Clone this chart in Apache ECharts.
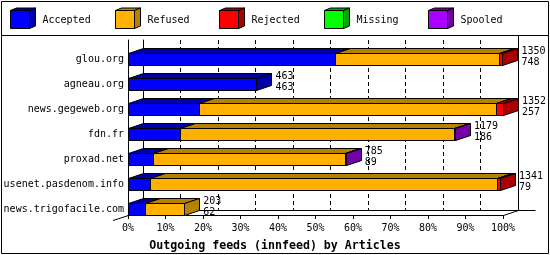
<!DOCTYPE html>
<html><head><meta charset="utf-8">
<script src="https://cdn.jsdelivr.net/npm/echarts@6/dist/echarts.min.js"></script>
<style>html,body{margin:0;padding:0;background:#fff}#c{width:550px;height:255px}</style>
</head><body><div id="c"></div>
<script>
const hosts = ['glou.org','agneau.org','news.gegeweb.org','fdn.fr','proxad.net','usenet.pasdenom.info','news.trigofacile.com'];
const totals   = [1350, 463, 1352, 1179, 785, 1341, 203];
const accepted = [748, 463, 257, 186, 89, 79, 62];
const refused  = [590, 0, 1068, 990, 694, 1252, 141];
const rejected = [12, 0, 27, 0, 0, 10, 0];
const missing  = [0, 0, 0, 0, 0, 0, 0];
const spooled  = [0, 0, 0, 3, 2, 0, 0];
const tickValues = [0,10,20,30,40,50,60,70,80,90,100];
const statusNames = ['Accepted','Refused','Rejected','Missing','Spooled'];
const frontColors = ['#0000ff','#ffb000','#ff0000','#00ff00','#aa00ff'];
const darkColors  = ['#0000a8','#b88000','#aa0000','#00a800','#7400a8'];
const titleText = 'Outgoing feeds (innfeed) by Articles';

const FONT = '"DejaVu Sans Mono", "Liberation Mono", monospace';
const maxTotal = Math.max.apply(null, totals);
const pct = v => v / maxTotal * 100;
const D = 15, H = 5, FH = 12;

const statusValues = [accepted, refused, rejected, missing, spooled];
const cum = hosts.map(() => 0);
const barSeries = statusValues.map((vals, s) => {
  const data = [];
  vals.forEach((v, i) => {
    if (v > 0) { data.push([pct(cum[i]), pct(cum[i] + v), i]); }
    cum[i] += v;
  });
  return {
    type: 'custom', name: statusNames[s], xAxisIndex: 1, yAxisIndex: 1,
    encode: { x: [0, 1], y: 2 },
    data: data,
    renderItem: function (params, api) {
      const p0 = api.coord([api.value(0), api.value(2)]);
      const p1 = api.coord([api.value(1), api.value(2)]);
      const xa = Math.round(p0[0]) + 0.5, xb = Math.round(p1[0]) + 0.5;
      const yt = Math.round(p0[1]) + 0.5, yb = yt + FH;
      const st = { stroke: '#000', lineWidth: 1 };
      return { type: 'group', children: [
        { type: 'rect', shape: { x: xa, y: yt, width: xb - xa, height: FH }, style: Object.assign({ fill: frontColors[s] }, st) },
        { type: 'polygon', shape: { points: [[xa, yt], [xa + D, yt - H], [xb + D, yt - H], [xb, yt]] }, style: Object.assign({ fill: darkColors[s] }, st) },
        { type: 'polygon', shape: { points: [[xb, yt], [xb + D, yt - H], [xb + D, yb - H], [xb, yb]] }, style: Object.assign({ fill: darkColors[s] }, st) }
      ]};
    }
  };
});

const labelSeries = {
  type: 'custom', name: 'labels', xAxisIndex: 1, yAxisIndex: 1, z: 5,
  encode: { x: 0, y: 1 },
  data: hosts.map((h, i) => [pct(totals[i]), i, totals[i], accepted[i]]),
  renderItem: function (params, api) {
    const p = api.coord([api.value(0), api.value(1)]);
    return { type: 'text', style: {
      text: api.value(2) + '\n' + api.value(3),
      x: p[0] + D + 4, y: p[1] + 4,
      font: '10px ' + FONT, fill: '#000', verticalAlign: 'middle', align: 'left', lineHeight: 11
    }};
  }
};

const graphics = [
  { type: 'rect', shape: { x: 1.5, y: 1.5, width: 547, height: 252 }, style: { fill: 'none', stroke: '#000', lineWidth: 1 }, z: 10 },
  { type: 'line', shape: { x1: 1.5, y1: 35.5, x2: 548.5, y2: 35.5 }, style: { stroke: '#000', lineWidth: 1 } },
  { type: 'line', shape: { x1: 518.5, y1: 35.5, x2: 518.5, y2: 210.5 }, style: { stroke: '#000', lineWidth: 1 } },
  { type: 'line', shape: { x1: 518.5, y1: 210.5, x2: 535.5, y2: 210.5 }, style: { stroke: '#000', lineWidth: 1 } },
  { type: 'line', shape: { x1: 113, y1: 220.5, x2: 128.5, y2: 215.5 }, style: { stroke: '#000', lineWidth: 1 } },
  { type: 'line', shape: { x1: 503.5, y1: 215.5, x2: 518.5, y2: 210.5 }, style: { stroke: '#000', lineWidth: 1 } }
];
statusNames.forEach((name, k) => {
  const x = Math.round(10 + k * 104.5) + 0.5, y = 10.5, w = 19, h = 18, dx = 6, dy = 2.5;
  const st = { stroke: '#000', lineWidth: 1 };
  graphics.push({ type: 'polygon', shape: { points: [[x, y], [x + dx, y - dy], [x + w + dx, y - dy], [x + w, y]] }, style: Object.assign({ fill: darkColors[k] }, st) });
  graphics.push({ type: 'polygon', shape: { points: [[x + w, y], [x + w + dx, y - dy], [x + w + dx, y + h - dy], [x + w, y + h]] }, style: Object.assign({ fill: darkColors[k] }, st) });
  graphics.push({ type: 'rect', shape: { x: x, y: y, width: w, height: h }, style: Object.assign({ fill: frontColors[k] }, st) });
  graphics.push({ type: 'text', style: { text: name, x: x + 32, y: 20, font: '10px ' + FONT, fill: '#000', verticalAlign: 'middle' } });
});

const chart = echarts.init(document.getElementById('c'), null, { renderer: 'canvas' });
chart.setOption({
  animation: false,
  backgroundColor: '#fff',
  title: { text: titleText, left: 'center', top: 235, textStyle: { fontFamily: FONT, fontSize: 11.6, fontWeight: 'bold', color: '#000' } },
  grid: [
    { left: 143, top: 40, width: 375, height: 170 },
    { left: 128, top: 40, width: 375, height: 175 }
  ],
  xAxis: [
    { gridIndex: 0, type: 'value', min: 0, max: 100, interval: 10,
      axisLine: { show: true, lineStyle: { color: '#000', width: 1 } }, axisTick: { show: false }, axisLabel: { show: false },
      splitLine: { show: true, lineStyle: { color: '#000', width: 1, type: [4, 3] } } },
    { gridIndex: 1, type: 'value', min: 0, max: 100, interval: 10,
      axisLine: { show: true, lineStyle: { color: '#000', width: 1 } },
      axisTick: { show: true, length: 4, lineStyle: { color: '#000' } },
      axisLabel: { formatter: v => tickValues.indexOf(v) >= 0 ? v + '%' : '', fontFamily: FONT, fontSize: 10, color: '#000', margin: 8 },
      splitLine: { show: false } }
  ],
  yAxis: [
    { gridIndex: 0, type: 'category', data: hosts, inverse: true,
      axisLine: { show: true, lineStyle: { color: '#000', width: 1 } }, axisTick: { show: false }, axisLabel: { show: false }, splitLine: { show: false } },
    { gridIndex: 1, type: 'category', data: hosts, inverse: true,
      axisLine: { show: true, lineStyle: { color: '#000', width: 1 } }, axisTick: { show: false },
      axisLabel: { fontFamily: FONT, fontSize: 10, color: '#000', margin: 4, verticalAlign: 'top', lineHeight: 13 }, splitLine: { show: false } }
  ],
  graphic: graphics,
  series: barSeries.concat([labelSeries])
});
</script></body></html>
